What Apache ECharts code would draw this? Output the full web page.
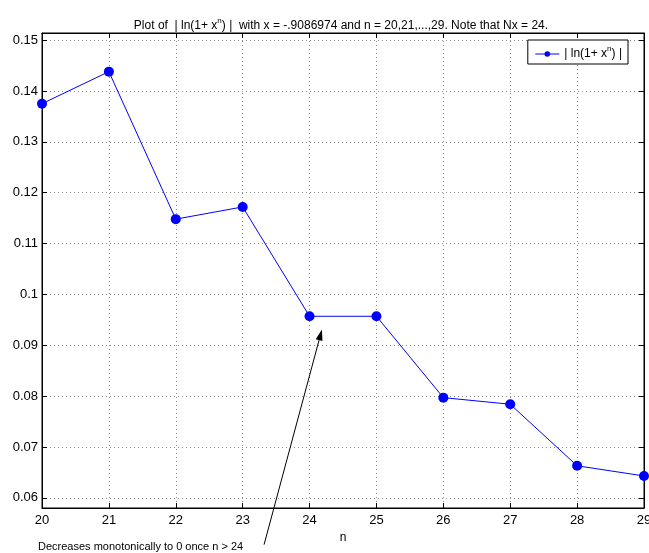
<!DOCTYPE html>
<html>
<head>
<meta charset="utf-8">
<script src="https://cdn.jsdelivr.net/npm/echarts@6/dist/echarts.min.js"></script>
<style>
html,body{margin:0;padding:0;background:#fff;}
#chart{width:649px;height:553px;}
</style>
</head>
<body>
<div id="chart"></div>
<script>
// ---- data ----
const nValues = [20, 21, 22, 23, 24, 25, 26, 27, 28, 29];
const absLogValues = [0.1375, 0.1438, 0.1148, 0.1172, 0.0957, 0.0957, 0.0797, 0.0784, 0.0663, 0.0643];
const xTickRange = [20, 29];
const yRange = [0.058, 0.1514];
const arrowTail = [23.32, 0.0508];
const arrowTip = [24.185, 0.0931];
const annotationText = 'Decreases monotonically to 0 once n > 24';

const FONT = 'Liberation Sans, Arial, Helvetica, sans-serif';
const chart = echarts.init(document.getElementById('chart'), null, {renderer: 'canvas'});

const dotted = {color: '#8c8c8c', width: 1, type: [1, 3]};

const option = {
  backgroundColor: '#ffffff',
  animation: false,
  title: {
    text: 'Plot of  | ln(1+ x{sup|n}) |  with x = -.9086974 and n = 20,21,...,29. Note that Nx = 24.',
    left: 336, top: 12, textAlign: 'center',
    textStyle: {
      fontFamily: FONT, fontSize: 12, fontWeight: 'normal', color: '#000',
      rich: {sup: {fontFamily: FONT, fontSize: 8, color: '#000', padding: [0, 0, 9, 0]}}
    }
  },
  legend: {
    right: 21, top: 40,
    orient: 'vertical',
    backgroundColor: '#fff', borderColor: '#000', borderWidth: 1,
    padding: [5, 6, 4, 7],
    itemWidth: 24, itemHeight: 7, itemGap: 4,
    data: [{name: 'abs'}],
    lineStyle: {width: 1},
    formatter: function () { return '| ln(1+ x{sup|n}) |'; },
    textStyle: {
      fontFamily: FONT, fontSize: 12, color: '#000',
      rich: {sup: {fontFamily: FONT, fontSize: 8, color: '#000', padding: [0, 0, 10, 0]}}
    }
  },
  grid: {left: 42, right: 5, top: 33, bottom: 45, show: true, borderColor: '#000', borderWidth: 1, outerBoundsMode: 'none', containLabel: false},
  xAxis: [{
    type: 'value', min: xTickRange[0], max: xTickRange[1], interval: 1,
    name: 'n', nameLocation: 'middle', nameGap: 24,
    nameTextStyle: {fontFamily: FONT, fontSize: 12, color: '#000'},
    axisLine: {lineStyle: {color: '#000', width: 1}},
    axisTick: {inside: true, length: 5, lineStyle: {color: '#000'}},
    axisLabel: {fontFamily: FONT, fontSize: 13, color: '#000', margin: 6, hideOverlap: false},
    splitLine: {show: true, lineStyle: dotted}
  }, {
    type: 'value', position: 'top', min: xTickRange[0], max: xTickRange[1], interval: 1,
    axisLine: {lineStyle: {color: '#000', width: 1}},
    axisTick: {inside: true, length: 5, lineStyle: {color: '#000'}},
    axisLabel: {show: false}, splitLine: {show: false}
  }],
  yAxis: [{
    type: 'value', min: yRange[0], max: yRange[1], splitNumber: 9,
    axisLine: {show: true, lineStyle: {color: '#000', width: 1}},
    axisTick: {show: true, inside: true, length: 5, lineStyle: {color: '#000'}},
    axisLabel: {fontFamily: FONT, fontSize: 13, color: '#000', margin: 4, showMinLabel: false, showMaxLabel: false},
    splitLine: {show: true, lineStyle: dotted}
  }, {
    type: 'value', position: 'right', min: yRange[0], max: yRange[1], splitNumber: 9,
    axisLine: {show: true, lineStyle: {color: '#000', width: 1}},
    axisTick: {show: true, inside: true, length: 5, lineStyle: {color: '#000'}},
    axisLabel: {show: false}, splitLine: {show: false}
  }],
  series: [{
    name: 'abs', type: 'line',
    data: nValues.map((n, i) => [n, absLogValues[i]]),
    symbol: 'circle', symbolSize: 10, showSymbol: true,
    lineStyle: {color: '#0000ff', width: 1},
    itemStyle: {color: '#0000ff'},
    clip: false
  }]
};
chart.setOption(option);

const tail = chart.convertToPixel({xAxisIndex: 0, yAxisIndex: 0}, arrowTail);
const tip = chart.convertToPixel({xAxisIndex: 0, yAxisIndex: 0}, arrowTip);
const dx = tip[0] - tail[0], dy = tip[1] - tail[1];
const len = Math.sqrt(dx * dx + dy * dy);
const ux = dx / len, uy = dy / len;
const hl = 11, hw = 3.5;
const bx = tip[0] - ux * hl, by = tip[1] - uy * hl;
chart.setOption({
  graphic: [
    {type: 'line', shape: {x1: tail[0], y1: tail[1], x2: bx, y2: by}, style: {stroke: '#000', lineWidth: 1}, z: 100},
    {type: 'polygon', shape: {points: [[tip[0], tip[1]], [bx - uy * hw, by + ux * hw], [bx + uy * hw, by - ux * hw]]}, style: {fill: '#000'}, z: 100},
    {type: 'text', left: 38, top: 541, style: {text: annotationText, font: '11px ' + FONT, fill: '#000'}, z: 100}
  ]
});
</script>
</body>
</html>
